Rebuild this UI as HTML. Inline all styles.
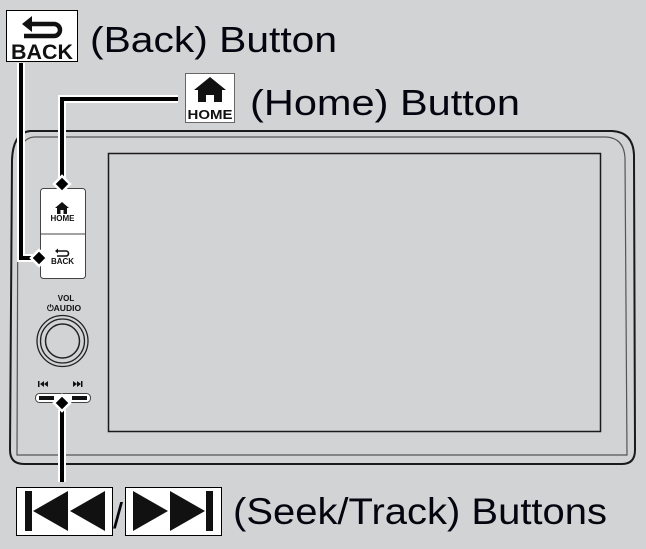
<!DOCTYPE html>
<html><head><meta charset="utf-8"><style>
html,body{margin:0;padding:0;background:#d2d3d5;}
svg{display:block}
text{font-family:"Liberation Sans",sans-serif;}
</style></head><body>
<svg width="646" height="549" viewBox="0 0 646 549" xmlns="http://www.w3.org/2000/svg">
<rect width="646" height="549" fill="#d2d3d5"/>
<path d="M30,131 L612,131 Q633,132 634,155 L635,450 Q635,464 622,464 L24,464 Q10,464 10,450 L12,160 Q13,133 30,131 Z" fill="none" stroke="#1a1a1a" stroke-width="2"/>
<path d="M34,137 L606,137 Q624,138 625,158 L627,455 L17,455 L18,160 Q20,138 34,137 Z" fill="none" stroke="#555" stroke-width="1.2"/>
<rect x="108.5" y="153.5" width="492" height="278" fill="none" stroke="#1a1a1a" stroke-width="1.5"/>
<rect x="40.5" y="188.5" width="45" height="90" rx="3" fill="#fff" stroke="#444" stroke-width="1"/>
<line x1="40" y1="234" x2="86" y2="234" stroke="#444"/>
<path d="M62,202 l-7,6 h2 v6 h3.5 v-4 h3 v4 h3.5 v-6 h2 z" fill="#111"/>
<text x="62.5" y="221" font-size="8" font-weight="bold" text-anchor="middle" fill="#111">HOME</text>
<path d="M57,251 h9 a2.5,2.5 0 0 1 0,5 h-9" fill="none" stroke="#111" stroke-width="1.6"/>
<path d="M55,251 l3,-2.5 v5 z" fill="#111"/>
<text x="62.5" y="264" font-size="8" font-weight="bold" text-anchor="middle" fill="#111">BACK</text>
<text x="66" y="301" font-size="8" font-weight="bold" text-anchor="middle" fill="#111">VOL</text>
<text x="64" y="311" font-size="8.5" font-weight="bold" text-anchor="middle" fill="#111">⏻AUDIO</text>
<circle cx="62.5" cy="341" r="25.5" fill="none" stroke="#222" stroke-width="1.3"/>
<circle cx="62.5" cy="341" r="22" fill="none" stroke="#222" stroke-width="1.3"/>
<circle cx="62.5" cy="341" r="17" fill="none" stroke="#222" stroke-width="1.5"/>
<g fill="#111">
<rect x="38" y="381" width="1.5" height="6"/><path d="M40,384 l4,-3 v6z M44,384 l4,-3 v6z"/>
<path d="M73,381 v6 l4,-3z M77,381 v6 l4,-3z"/><rect x="81" y="381" width="1.5" height="6"/>
</g>
<rect x="35.5" y="393.5" width="55" height="9" rx="4" fill="#fff" stroke="#444"/>
<rect x="39" y="396" width="15" height="4" fill="#111"/>
<rect x="72" y="396" width="15" height="4" fill="#111"/>
<g fill="none" stroke="#fff" stroke-width="8">
<path d="M21,63 V258 H38"/>
<path d="M178,99 H62 V183"/>
<path d="M62,410 V482"/>
</g>
<g fill="none" stroke="#000" stroke-width="4">
<path d="M21,63 V258 H38"/>
<path d="M178,99 H62 V183"/>
<path d="M62,410 V482"/>
</g>
<g fill="#000" stroke="#fff" stroke-width="2.5">
<path d="M62,176 l8,8 l-8,8 l-8,-8z"/>
<path d="M39,250 l8,8 l-8,8 l-8,-8z"/>
<path d="M62,395 l8,8 l-8,8 l-8,-8z"/>
</g>
<rect x="6.5" y="10.5" width="71" height="51" fill="#fff" stroke="#000"/>
<path d="M30,24 h24 a6,6 0 0 1 0,12 h-30" fill="none" stroke="#111" stroke-width="4.5"/>
<path d="M22,24 l10,-8 v16 z" fill="#111"/>
<text x="42" y="59" font-size="21" font-weight="bold" text-anchor="middle" fill="#111" textLength="62" lengthAdjust="spacingAndGlyphs">BACK</text>
<text x="90" y="52" font-size="36" fill="#050510" textLength="247" lengthAdjust="spacingAndGlyphs">(Back) Button</text>
<rect x="185.5" y="73.5" width="49" height="49" fill="#fff" stroke="#666"/>
<path d="M210,77 l-16,13 h4 v12 h8 v-7 h8 v7 h8 v-12 h4 z" fill="#111"/>
<text x="210" y="119" font-size="13" font-weight="bold" text-anchor="middle" fill="#111" textLength="45" lengthAdjust="spacingAndGlyphs">HOME</text>
<text x="250" y="115" font-size="36" fill="#050510" textLength="270" lengthAdjust="spacingAndGlyphs">(Home) Button</text>
<rect x="16.5" y="487.5" width="96" height="48" fill="#fff" stroke="#000"/>
<rect x="25" y="491" width="7" height="40" fill="#111"/>
<path d="M33,511 l35,-20 v40 z M70,511 l35,-20 v40 z" fill="#111"/>
<text x="113" y="528" font-size="36" fill="#050510">/</text>
<rect x="125.5" y="487.5" width="96" height="48" fill="#fff" stroke="#000"/>
<path d="M133,491 v40 l35,-20 z M170,491 v40 l35,-20 z" fill="#111"/>
<rect x="206" y="491" width="7" height="40" fill="#111"/>
<text x="233" y="524" font-size="37" fill="#050510" textLength="374" lengthAdjust="spacingAndGlyphs">(Seek/Track) Buttons</text>
</svg>
</body></html>
